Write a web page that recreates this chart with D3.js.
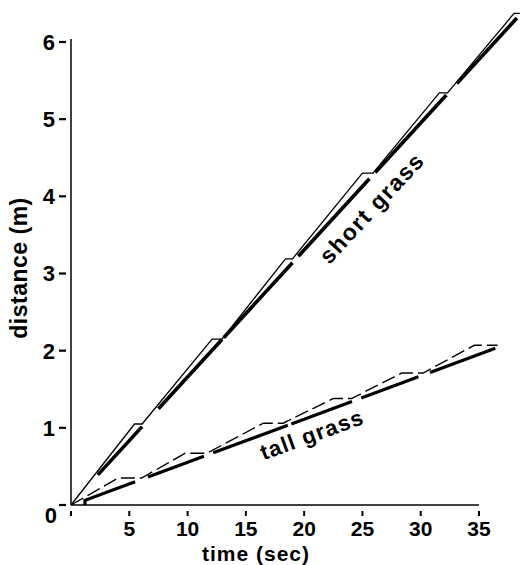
<!DOCTYPE html>
<html>
<head>
<meta charset="utf-8">
<script src="https://cdn.jsdelivr.net/npm/d3@7"></script>
<style>
  body { margin: 0; background: #fff; }
  text { font-family: "Liberation Sans", Arial, Helvetica, sans-serif; font-weight: bold; fill: #000; }
</style>
</head>
<body>
<div id="chart"></div>
<script>
// x ticks (sec) and y ticks (m)
const xTicks = [5, 10, 15, 20, 25, 30, 35];
const yTicks = [1, 2, 3, 4, 5, 6];

// short grass: stepped path (thin) and mean path (thick dashed)
const shortSteps = [[0, 0], [5.45, 1.05], [6.1, 1.05], [12.1, 2.15], [12.95, 2.15], [18.4, 3.19], [19.0, 3.19],
  [25.0, 4.3], [25.9, 4.3], [31.6, 5.34], [32.3, 5.34], [38.0, 6.37], [38.5, 6.37]];
const shortMeanEnds = [[2.3, 0.39], [38.25, 6.31]];
const shortMeanDashes = [[2.3, 6.1], [7.5, 12.95], [13.1, 19.0], [19.5, 25.6], [26.1, 32.2], [33.1, 38.25]];

// tall grass
const tallSteps = [[0, 0], [4.06, 0.35], [6.06, 0.35], [9.78, 0.67], [11.64, 0.67], [16.5, 1.06], [18.2, 1.06],
  [22.5, 1.38], [24.07, 1.38], [28.36, 1.71], [30.2, 1.71], [34.6, 2.07], [36.6, 2.07]];
const tallMeanEnds = [[1.2, 0.06], [36.4, 2.03]];
const tallMeanDashes = [[1.2, 5.5], [6.6, 11.4], [12.2, 18.6], [18.9, 24.1], [24.9, 29.8], [30.8, 36.4]];

const width = 521, height = 565;

const svg = d3.select("#chart").append("svg")
    .attr("width", width)
    .attr("height", height);

const x = d3.scaleLinear().domain([0, 35]).range([71, 479]);
const y = d3.scaleLinear().domain([0, 6]).range([505, 42]);

// axes
svg.append("line")
    .attr("x1", x(0)).attr("x2", x(0))
    .attr("y1", y(0)).attr("y2", y(6) - 3)
    .attr("stroke", "#000").attr("stroke-width", 1.5);
svg.append("line")
    .attr("x1", x(0)).attr("x2", x(35))
    .attr("y1", y(0)).attr("y2", y(0))
    .attr("stroke", "#000").attr("stroke-width", 1.5);

// y ticks: little dashes detached from the axis
svg.selectAll(".ytick")
    .data([0].concat(yTicks))
    .enter().append("line")
    .attr("x1", x(0) - 12).attr("x2", x(0) - 5)
    .attr("y1", d => y(d)).attr("y2", d => y(d))
    .attr("stroke", "#000").attr("stroke-width", 2.2);

svg.selectAll(".ylab")
    .data(yTicks)
    .enter().append("text")
    .attr("x", x(0) - 16)
    .attr("y", d => y(d))
    .attr("dy", "0.36em")
    .attr("text-anchor", "end")
    .style("font-size", "22px")
    .text(d => d);

// x ticks
svg.selectAll(".xtick")
    .data([0].concat(xTicks))
    .enter().append("line")
    .attr("x1", d => x(d)).attr("x2", d => x(d))
    .attr("y1", y(0) + 6).attr("y2", y(0) + 11)
    .attr("stroke", "#000").attr("stroke-width", 2);

svg.selectAll(".xlab")
    .data(xTicks)
    .enter().append("text")
    .attr("x", d => x(d))
    .attr("y", y(0) + 31)
    .attr("text-anchor", "middle")
    .style("font-size", "21px")
    .text(d => d);

// shared origin label
svg.append("text")
    .attr("x", x(0) - 14)
    .attr("y", y(0) + 18)
    .attr("text-anchor", "end")
    .style("font-size", "22px")
    .text("0");

// axis titles
svg.append("text")
    .attr("x", 256)
    .attr("y", 561)
    .attr("text-anchor", "middle")
    .style("font-size", "21px")
    .style("letter-spacing", "1px")
    .text("time (sec)");

svg.append("text")
    .attr("transform", "translate(27,268) rotate(-90)")
    .attr("text-anchor", "middle")
    .style("font-size", "23px")
    .style("letter-spacing", "0.5px")
    .text("distance (m)");

const line = d3.line().x(d => x(d[0])).y(d => y(d[1]));

function meanSegments(ends, dashes) {
    const f = d3.scaleLinear().domain([ends[0][0], ends[1][0]]).range([ends[0][1], ends[1][1]]);
    return dashes.map(([a, b]) => [[a, f(a)], [b, f(b)]]);
}

// short grass
svg.append("path")
    .attr("d", line(shortSteps))
    .attr("fill", "none")
    .attr("stroke", "#000")
    .attr("stroke-width", 1.3);

svg.selectAll(".shortMean")
    .data(meanSegments(shortMeanEnds, shortMeanDashes))
    .enter().append("path")
    .attr("d", line)
    .attr("fill", "none")
    .attr("stroke", "#000")
    .attr("stroke-width", 3.6);

// tall grass
svg.append("path")
    .attr("d", line(tallSteps))
    .attr("fill", "none")
    .attr("stroke", "#000")
    .attr("stroke-width", 1.4)
    .attr("stroke-dasharray", "14,5");

const tallSegs = meanSegments(tallMeanEnds, tallMeanDashes);
tallSegs[0].unshift([tallMeanEnds[0][0], 0]); // small upturn at the start
svg.selectAll(".tallMean")
    .data(tallSegs)
    .enter().append("path")
    .attr("d", line)
    .attr("fill", "none")
    .attr("stroke", "#000")
    .attr("stroke-width", 3.2);

// curve labels
svg.append("text")
    .attr("transform", `translate(${x(26.3)},${y(3.78)}) rotate(-47)`)
    .attr("text-anchor", "middle")
    .style("font-size", "23px")
    .style("letter-spacing", "1.5px")
    .text("short grass");

svg.append("text")
    .attr("transform", `translate(${x(20.9)},${y(0.82)}) rotate(-20)`)
    .attr("text-anchor", "middle")
    .style("font-size", "22px")
    .style("letter-spacing", "1.2px")
    .text("tall grass");
</script>
</body>
</html>
